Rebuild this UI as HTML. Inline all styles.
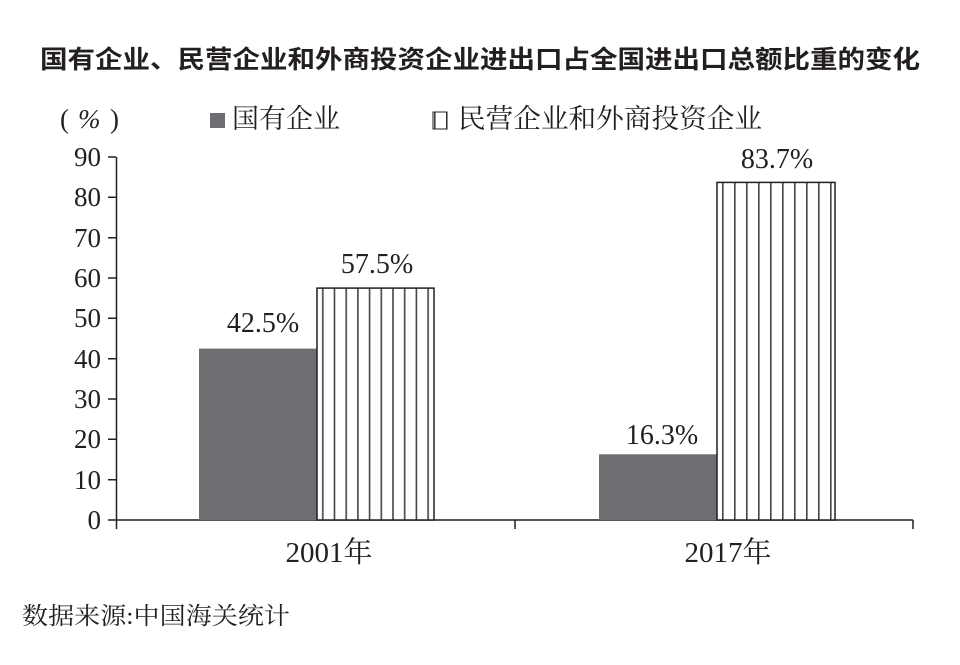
<!DOCTYPE html>
<html><head><meta charset="utf-8"><style>
body{margin:0;background:#fff}
svg text{font-family:"Liberation Serif","Noto Serif CJK SC",serif;fill:#231f20}
</style></head><body>
<svg width="960" height="660" xmlns="http://www.w3.org/2000/svg">
<defs><pattern id="st" x="717" y="0" width="12" height="10" patternUnits="userSpaceOnUse">
<rect width="12" height="10" fill="#fff"/><rect x="5" width="1.6" height="10" fill="#444"/></pattern>
<pattern id="st2" x="317" y="0" width="11.7" height="10" patternUnits="userSpaceOnUse">
<rect width="12" height="10" fill="#fff"/><rect x="5" width="1.6" height="10" fill="#444"/></pattern></defs>
<text x="40" y="68" font-size="25" font-weight="bold" textLength="880" lengthAdjust="spacingAndGlyphs" style="font-family:'Noto Sans CJK SC',sans-serif">国有企业、民营企业和外商投资企业进出口占全国进出口总额比重的变化</text>
<text x="60" y="128" font-size="27">(</text><text x="78" y="128" font-size="27" font-style="italic">%</text><text x="110" y="128" font-size="27">)</text>
<rect x="210" y="113" width="15" height="15" fill="#6d6e71"/>
<text x="232" y="128" font-size="27" textLength="108" lengthAdjust="spacingAndGlyphs">国有企业</text>
<rect x="433" y="112" width="14" height="17" fill="url(#st)" stroke="#231f20" stroke-width="1"/>
<text x="458" y="128" font-size="27" textLength="304" lengthAdjust="spacingAndGlyphs">民营企业和外商投资企业</text>
<g stroke="#231f20" stroke-width="1.5" fill="none">
<path d="M116.5 157V520H913"/>
<path d="M108 157H116M108 197.3H116M108 237.7H116M108 278H116M108 318.3H116M108 358.7H116M108 399H116M108 439.3H116M108 479.7H116M108 520H116"/>
<path d="M116.5 520V529M515 520V529M913 520V529"/>
</g>
<g font-size="27" text-anchor="end">
<text x="101" y="166">90</text><text x="101" y="206">80</text><text x="101" y="247">70</text><text x="101" y="287">60</text><text x="101" y="327">50</text><text x="101" y="368">40</text><text x="101" y="408">30</text><text x="101" y="448">20</text><text x="101" y="489">10</text><text x="101" y="529">0</text>
</g>
<rect x="199" y="348.6" width="118" height="171.4" fill="#6d6e71"/>
<rect x="317" y="288.1" width="117" height="231.9" fill="url(#st2)" stroke="#231f20" stroke-width="1.5"/>
<rect x="599" y="454.3" width="118" height="65.7" fill="#6d6e71"/>
<rect x="717" y="182.4" width="118" height="337.6" fill="url(#st)" stroke="#231f20" stroke-width="1.5"/>
<g font-size="28" text-anchor="middle">
<text x="263" y="332">42.5%</text><text x="377" y="273">57.5%</text>
<text x="662" y="444">16.3%</text><text x="777" y="168">83.7%</text>
<text x="329" y="562" font-size="29">2001年</text><text x="728" y="562" font-size="29">2017年</text>
</g>
<text x="22" y="624" font-size="24" textLength="268" lengthAdjust="spacingAndGlyphs">数据来源:中国海关统计</text>
</svg>
</body></html>
